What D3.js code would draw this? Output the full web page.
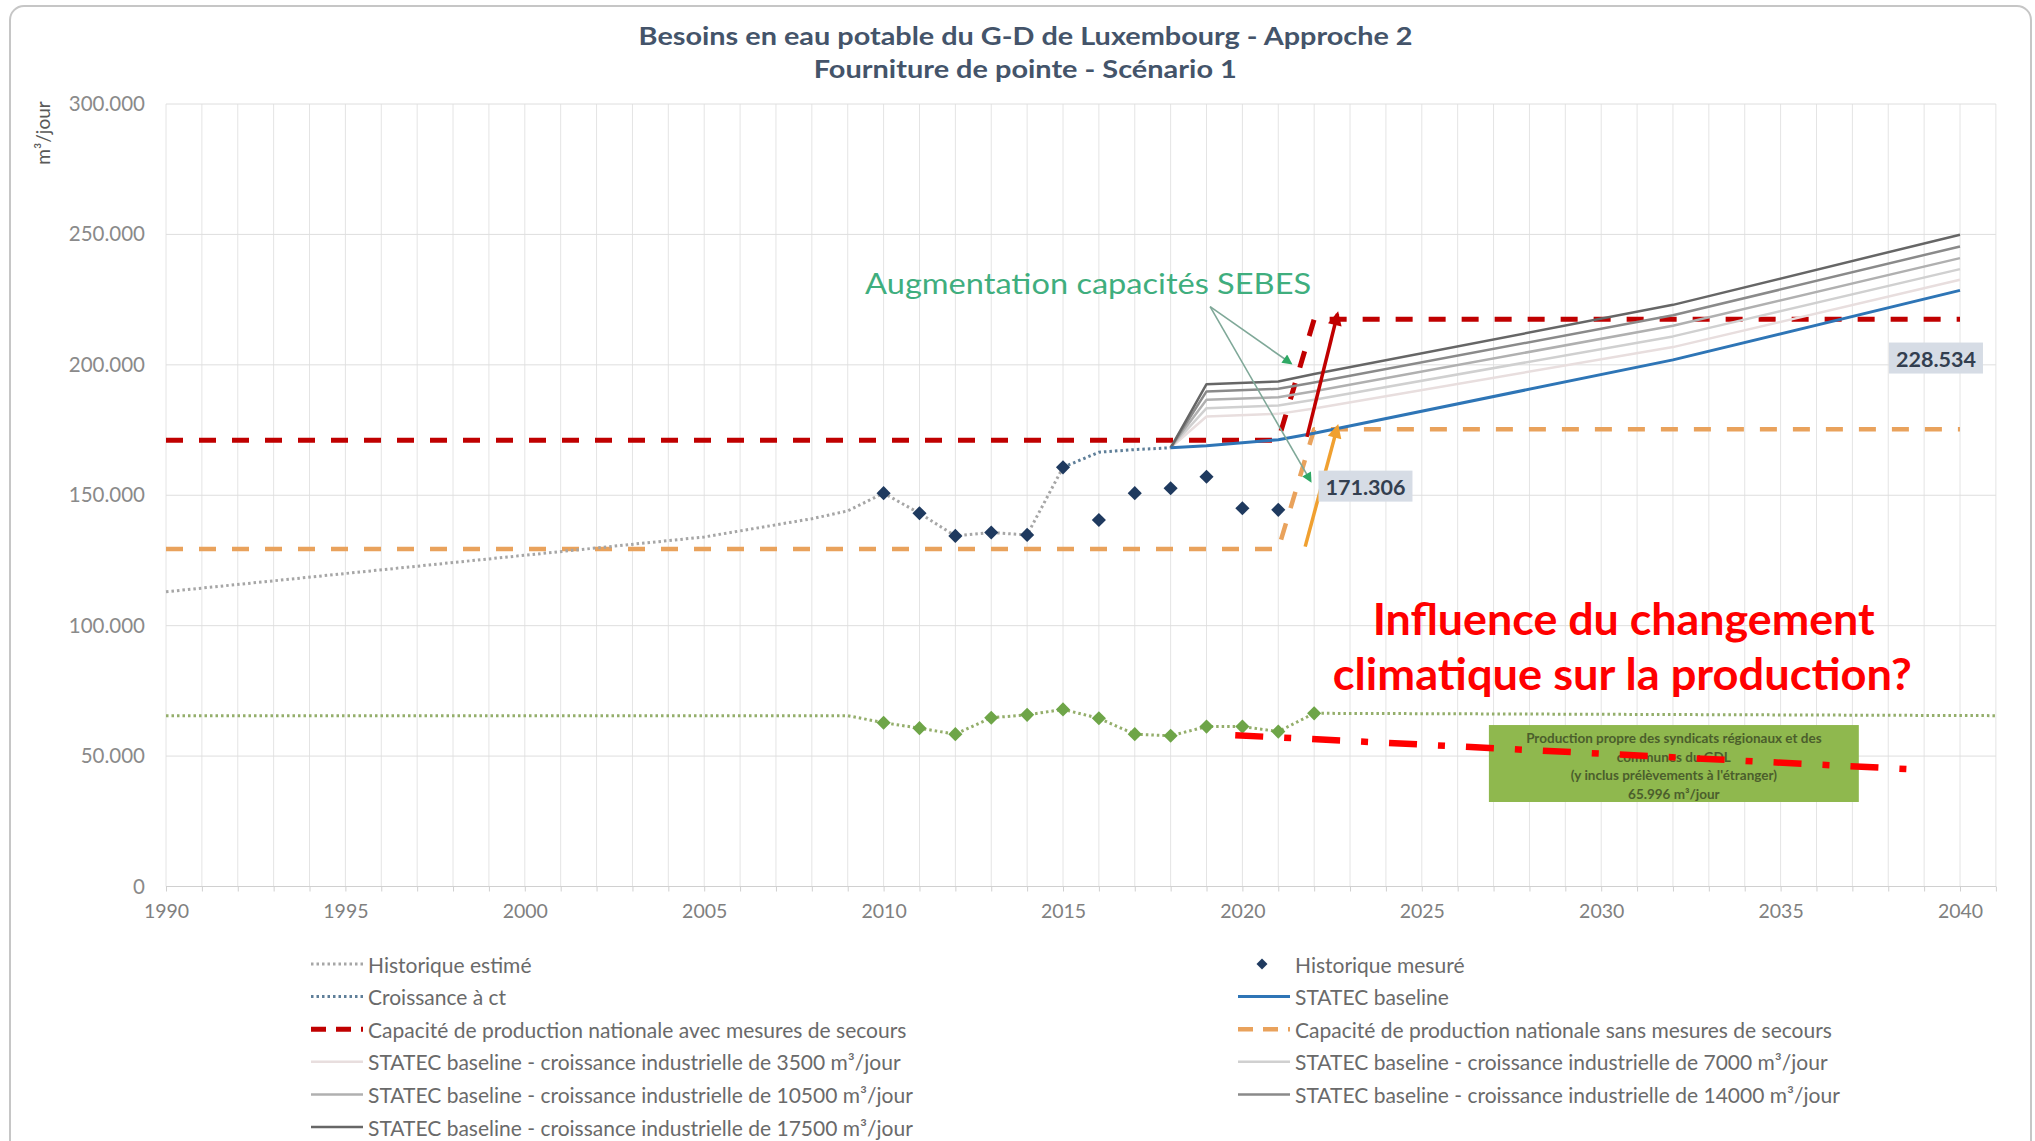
<!DOCTYPE html>
<html>
<head>
<meta charset="utf-8">
<script src="https://d3js.org/d3.v7.min.js"></script>
<style>
  body { margin: 0; background: #fff; }
  text { font-family: Lato, "Open Sans", sans-serif; }
</style>
</head>
<body>
<script>
  // ---- data (m3/jour) ----
  var title = ["Besoins en eau potable du G-D de Luxembourg - Approche 2",
               "Fourniture de pointe - Scénario 1"];
  var xTicks = [1990, 1995, 2000, 2005, 2010, 2015, 2020, 2025, 2030, 2035, 2040];
  var yTicks = [0, 50000, 100000, 150000, 200000, 250000, 300000];
  var gridYears = d3.range(1990, 2042);

  var histEstimeYears  = [1990, 1995, 2000, 2005, 2008, 2009, 2010, 2011, 2012, 2013, 2014, 2015];
  var histEstimeValues = [113000, 120000, 127000, 134000, 141000, 144000, 150800, 143100, 134400, 135700, 134800, 160700];

  var croissanceYears  = [2015, 2016, 2017, 2018];
  var croissanceValues = [160700, 166500, 167500, 168200];

  var mesureYears  = [2010, 2011, 2012, 2013, 2014, 2015, 2016, 2017, 2018, 2019, 2020, 2021];
  var mesureValues = [150800, 143100, 134400, 135700, 134800, 160700, 140500, 150800, 152700, 157100, 145000, 144400];

  var capYears  = [1990, 2021, 2022, 2040];
  var capAvec   = [171100, 171100, 217500, 217500];
  var capSans   = [129400, 129400, 175300, 175300];

  var statecYears = [2018, 2019, 2021, 2022, 2032, 2040];
  var statecBase  = [168200, 169000, 171306, 173800, 201900, 228534];
  var statec3500  = [168200, 180200, 181200, 183300, 206800, 232600];
  var statec7000  = [168200, 183400, 184400, 186600, 210900, 236700];
  var statec10500 = [168200, 186600, 187600, 189900, 215000, 240900];
  var statec14000 = [168200, 189800, 190800, 193200, 219000, 245400];
  var statec17500 = [168200, 192600, 193600, 196500, 223000, 249900];

  var prodYears  = [1990, 2009, 2010, 2011, 2012, 2013, 2014, 2015, 2016, 2017, 2018, 2019, 2020, 2021, 2022, 2041];
  var prodValues = [65500, 65500, 62800, 60700, 58400, 64700, 65800, 67900, 64500, 58400, 57800, 61300, 61300, 59400, 66400, 65500];
  var prodPointYears = [2010, 2011, 2012, 2013, 2014, 2015, 2016, 2017, 2018, 2019, 2020, 2021, 2022];

  var legendLeftKeys = ["histEstime", "croissance", "capAvec", "s3500", "s10500", "s17500"];
  var legendLeftLabels = ["Historique estimé", "Croissance à ct",
    "Capacité de production nationale avec mesures de secours",
    "STATEC baseline - croissance industrielle de 3500 m³/jour",
    "STATEC baseline - croissance industrielle de 10500 m³/jour",
    "STATEC baseline - croissance industrielle de 17500 m³/jour"];
  var legendRightKeys = ["mesure", "statec", "capSans", "s7000", "s14000"];
  var legendRightLabels = ["Historique mesuré", "STATEC baseline",
    "Capacité de production nationale sans mesures de secours",
    "STATEC baseline - croissance industrielle de 7000 m³/jour",
    "STATEC baseline - croissance industrielle de 14000 m³/jour"];

  // annotations (data coordinates)
  var sebesText = "Augmentation capacités SEBES";
  var sebesAt = [2015.7, 231700];
  var sebesFrom = [2019.1, 222300];
  var sebesTo = [[2021.35, 200600], [2021.9, 155500]];
  var arrowRed = [[2021.8, 172400], [2022.65, 219500]];
  var arrowOrange = [[2021.75, 130300], [2022.65, 176300]];
  var label1 = ["171.306", 2023.43, 153500];
  var label2 = ["228.534", 2039.33, 202600];
  var climatLines = ["Influence du changement", "climatique sur la production?"];
  var climatAt = [[2023.63, 96500], [2022.52, 75200]];
  var climatTrend = [[2019.8, 58000], [2038.57, 45000]];
  var prodBoxX = [2026.87, 2037.18];
  var prodBoxY = [32400, 61900];
  var prodBoxLines = ["Production propre des syndicats régionaux et des",
    "communes du GDL", "(y inclus prélèvements à l'étranger)", "65.996 m³/jour"];

  // ---- styles ----
  var st = {
    histEstime: {stroke: "#a6a6a6", width: 3, dash: "2.5,3"},
    croissance: {stroke: "#5f7f99", width: 3, dash: "2.5,3"},
    capAvec:    {stroke: "#c00000", width: 5, dash: "17,16"},
    capSans:    {stroke: "#e9a25c", width: 4.5, dash: "17,16"},
    statec:     {stroke: "#2e75b6", width: 3},
    s3500:      {stroke: "#e8dede", width: 2.5},
    s7000:      {stroke: "#d0d0d0", width: 2.5},
    s10500:     {stroke: "#b0b0b0", width: 2.5},
    s14000:     {stroke: "#8a8a8a", width: 2.5},
    s17500:     {stroke: "#666666", width: 2.5},
    prod:       {stroke: "#94ae6b", width: 3, dash: "2.5,3"}
  };

  var width = 2035, height = 1141;
  var svg = d3.select("body").append("svg").attr("width", width).attr("height", height);

  svg.append("rect").attr("x", 10).attr("y", 6).attr("width", 2021).attr("height", 1200)
    .attr("rx", 14).attr("fill", "#fff").attr("stroke", "#c6c6c6").attr("stroke-width", 2);

  var defs = svg.append("defs");
  function marker(id, color, w, h) {
    defs.append("marker").attr("id", id).attr("markerUnits", "userSpaceOnUse")
      .attr("viewBox", "0 0 10 10").attr("refX", 8).attr("refY", 5)
      .attr("markerWidth", w).attr("markerHeight", h).attr("orient", "auto")
      .append("path").attr("d", "M0,0 L10,5 L0,10 z").attr("fill", color);
  }
  marker("arrRed", "#c00000", 16, 14);
  marker("arrOrange", "#f0a030", 16, 14);
  marker("arrGreen", "#2ea864", 12, 10);

  var x = d3.scaleLinear().domain([1990, 2040]).range([166, 1960]);
  var y = d3.scaleLinear().domain([0, 300000]).range([886.5, 104]);
  var fmt = d3.formatLocale({decimal: ",", thousands: ".", grouping: [3], currency: ["", " €"]}).format(",d");

  // title
  svg.selectAll(".title").data(title).enter().append("text")
    .attr("x", function(d, i) { return i == 0 ? 638.6 : 813.8; })
    .attr("y", function(d, i) { return 35 + i * 32.5; })
    .attr("dominant-baseline", "central")
    .attr("font-size", 25).attr("font-weight", "bold").attr("fill", "#44546a")
    .attr("textLength", function(d, i) { return i == 0 ? 774 : 423; })
    .attr("lengthAdjust", "spacingAndGlyphs")
    .text(function(d) { return d; });

  // gridlines
  svg.append("g").selectAll("line").data(gridYears).enter().append("line")
    .attr("x1", function(d) { return x(d); }).attr("x2", function(d) { return x(d); })
    .attr("y1", y(300000)).attr("y2", y(0))
    .attr("stroke", "#e4e4e4").attr("stroke-width", 1);
  svg.append("g").selectAll("line").data(yTicks).enter().append("line")
    .attr("x1", x(1990)).attr("x2", x(2041))
    .attr("y1", function(d) { return y(d); }).attr("y2", function(d) { return y(d); })
    .attr("stroke", "#dedede").attr("stroke-width", 1);

  // axes
  var yAxis = svg.append("g").attr("transform", "translate(" + x(1990) + ",0)")
    .call(d3.axisLeft(y).tickValues(yTicks).tickFormat(fmt).tickSize(0).tickPadding(21));
  yAxis.select(".domain").remove();
  yAxis.selectAll("text").attr("font-size", 20.5).attr("fill", "#8a8a8a").attr("font-family", "Lato");

  var xTickMarks = svg.append("g").attr("transform", "translate(0," + y(0) + ")")
    .call(d3.axisBottom(x).tickValues(gridYears).tickFormat("").tickSize(5));
  xTickMarks.select(".domain").remove();
  xTickMarks.selectAll("line").attr("stroke", "#d0d0d0");
  svg.append("line").attr("x1", x(1990)).attr("x2", x(2041)).attr("y1", y(0)).attr("y2", y(0))
    .attr("stroke", "#d0d0d0").attr("stroke-width", 1.2);

  var xAxis = svg.append("g").attr("transform", "translate(0," + y(0) + ")")
    .call(d3.axisBottom(x).tickValues(xTicks).tickFormat(d3.format("d")).tickSize(0).tickPadding(18));
  xAxis.select(".domain").remove();
  xAxis.selectAll("text").attr("font-size", 19.5).attr("fill", "#808080").attr("font-family", "Lato");

  svg.append("text").attr("transform", "translate(50,133) rotate(-90)")
    .attr("text-anchor", "middle").attr("font-size", 19).attr("fill", "#595959")
    .text("m³/jour");

  // series
  var line = d3.line().x(function(d) { return x(d[0]); }).y(function(d) { return y(d[1]); });
  function drawSeries(years, values, key) {
    var s = st[key];
    svg.append("path").datum(d3.zip(years, values)).attr("d", line)
      .attr("fill", "none").attr("stroke", s.stroke).attr("stroke-width", s.width)
      .attr("stroke-dasharray", s.dash || null).attr("stroke-linejoin", "round");
  }

  drawSeries(capYears, capSans, "capSans");
  drawSeries(capYears, capAvec, "capAvec");
  drawSeries(histEstimeYears, histEstimeValues, "histEstime");
  drawSeries(croissanceYears, croissanceValues, "croissance");
  drawSeries(prodYears, prodValues, "prod");
  drawSeries(statecYears, statec3500, "s3500");
  drawSeries(statecYears, statec7000, "s7000");
  drawSeries(statecYears, statec10500, "s10500");
  drawSeries(statecYears, statec14000, "s14000");
  drawSeries(statecYears, statec17500, "s17500");
  drawSeries(statecYears, statecBase, "statec");

  var diamond = d3.symbol().type(d3.symbolSquare).size(100);
  var prodPoints = d3.zip(prodYears, prodValues).filter(function(d) { return prodPointYears.indexOf(d[0]) >= 0; });
  svg.append("g").selectAll("path").data(prodPoints).enter().append("path")
    .attr("d", diamond)
    .attr("transform", function(d) { return "translate(" + x(d[0]) + "," + y(d[1]) + ") rotate(45)"; })
    .attr("fill", "#6ea548");
  svg.append("g").selectAll("path").data(d3.zip(mesureYears, mesureValues)).enter().append("path")
    .attr("d", diamond)
    .attr("transform", function(d) { return "translate(" + x(d[0]) + "," + y(d[1]) + ") rotate(45)"; })
    .attr("fill", "#1f3a5f");

  // SEBES annotation
  svg.append("text").attr("x", x(sebesAt[0])).attr("y", y(sebesAt[1]))
    .attr("text-anchor", "middle").attr("dominant-baseline", "central")
    .attr("font-family", "Liberation Sans, Arial, sans-serif")
    .attr("font-size", 29).attr("fill", "#3fae7e")
    .attr("textLength", 446).attr("lengthAdjust", "spacingAndGlyphs")
    .text(sebesText);
  svg.append("g").selectAll("line").data(sebesTo).enter().append("line")
    .attr("x1", x(sebesFrom[0])).attr("y1", y(sebesFrom[1]))
    .attr("x2", function(d) { return x(d[0]); }).attr("y2", function(d) { return y(d[1]); })
    .attr("stroke", "#7fa898").attr("stroke-width", 1.6).attr("marker-end", "url(#arrGreen)");

  // capacity arrows
  svg.append("line").attr("x1", x(arrowRed[0][0])).attr("y1", y(arrowRed[0][1]))
    .attr("x2", x(arrowRed[1][0])).attr("y2", y(arrowRed[1][1]))
    .attr("stroke", "#c00000").attr("stroke-width", 3.5).attr("marker-end", "url(#arrRed)");
  svg.append("line").attr("x1", x(arrowOrange[0][0])).attr("y1", y(arrowOrange[0][1]))
    .attr("x2", x(arrowOrange[1][0])).attr("y2", y(arrowOrange[1][1]))
    .attr("stroke", "#f0a030").attr("stroke-width", 3.5).attr("marker-end", "url(#arrOrange)");

  // data labels
  [label1, label2].forEach(function(l) {
    var g = svg.append("g").attr("transform", "translate(" + x(l[1]) + "," + y(l[2]) + ")");
    g.append("rect").attr("x", -47).attr("y", -15.5).attr("width", 94).attr("height", 31)
      .attr("fill", "#d6dce5");
    g.append("text").attr("x", -40).attr("dominant-baseline", "central")
      .attr("font-size", 21).attr("font-weight", "bold").attr("fill", "#333f50")
      .attr("textLength", 80).attr("lengthAdjust", "spacingAndGlyphs")
      .text(l[0]);
  });

  // production box
  svg.append("rect").attr("x", x(prodBoxX[0])).attr("y", y(prodBoxY[1]))
    .attr("width", x(prodBoxX[1]) - x(prodBoxX[0])).attr("height", y(prodBoxY[0]) - y(prodBoxY[1]))
    .attr("fill", "#8fb84e");
  svg.selectAll(".prodtxt").data(prodBoxLines).enter().append("text")
    .attr("x", (x(prodBoxX[0]) + x(prodBoxX[1])) / 2)
    .attr("y", function(d, i) { return y(prodBoxY[1]) + 13 + i * 18.5; })
    .attr("text-anchor", "middle").attr("dominant-baseline", "central")
    .attr("font-size", 13.5).attr("font-weight", "bold").attr("fill", "#4b5e2c")
    .text(function(d) { return d; });

  // climate annotation
  svg.append("line").attr("x1", x(climatTrend[0][0])).attr("y1", y(climatTrend[0][1]))
    .attr("x2", x(climatTrend[1][0])).attr("y2", y(climatTrend[1][1]))
    .attr("stroke", "#ff0000").attr("stroke-width", 6.5).attr("stroke-dasharray", "28,21,7,21");
  svg.selectAll(".climat").data(climatLines).enter().append("text")
    .attr("x", function(d, i) { return x(climatAt[i][0]); })
    .attr("y", function(d, i) { return y(climatAt[i][1]); })
    .attr("font-size", 44).attr("font-weight", "bold")
    .attr("fill", "#ff0000")
    .attr("textLength", function(d, i) { return i == 0 ? 502 : 579; })
    .attr("lengthAdjust", "spacingAndGlyphs")
    .text(function(d) { return d; });

  // legend
  function legendSample(g, key) {
    if (key == "mesure") {
      g.append("path").attr("d", d3.symbol().type(d3.symbolSquare).size(60))
        .attr("transform", "translate(24,0) rotate(45)").attr("fill", "#1f3a5f");
      return;
    }
    var s = st[key];
    var dash = s.dash;
    if (key == "capAvec" || key == "capSans") dash = "15,10";
    g.append("line").attr("x1", 0).attr("x2", 52).attr("y1", 0).attr("y2", 0)
      .attr("stroke", s.stroke).attr("stroke-width", s.width).attr("stroke-dasharray", dash || null);
  }
  function drawLegend(keys, labels, lx) {
    keys.forEach(function(k, i) {
      var g = svg.append("g").attr("transform", "translate(" + lx + "," + (964 + i * 32.6) + ")");
      legendSample(g, k);
      g.append("text").attr("x", 57).attr("dominant-baseline", "central")
        .attr("font-size", 21).attr("fill", "#6a6a6a").text(labels[i]);
    });
  }
  drawLegend(legendLeftKeys, legendLeftLabels, 311);
  drawLegend(legendRightKeys, legendRightLabels, 1238);
</script>
</body>
</html>
